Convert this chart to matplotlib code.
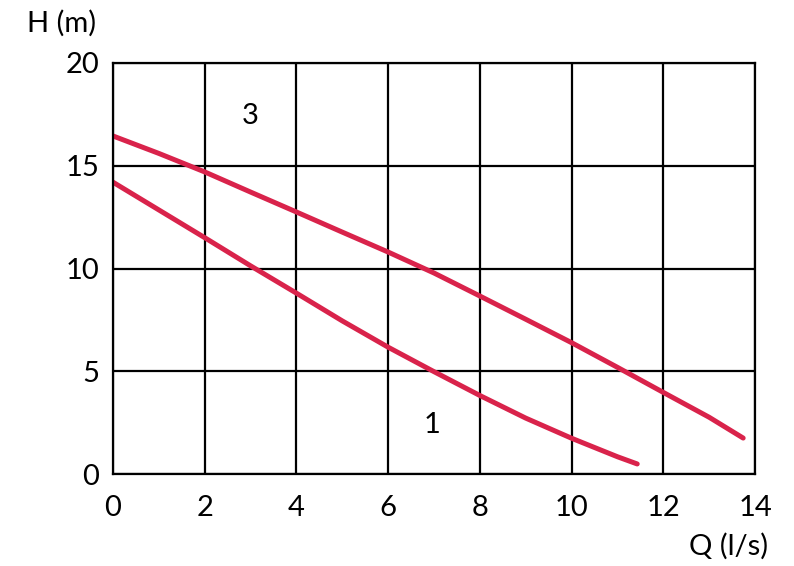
import numpy as np
import matplotlib.pyplot as plt

plt.rcParams['font.family'] = ['Lato', 'DejaVu Sans']

# pump curves
q3 = [0, 1, 2, 3, 4, 5, 6, 7, 8, 9, 10, 11, 12, 13, 13.74]
h3 = [16.45, 15.6, 14.7, 13.72, 12.75, 11.77, 10.8, 9.78, 8.66, 7.53, 6.39, 5.19, 3.97, 2.76, 1.75]
q1 = [0, 1, 2, 3, 4, 5, 6, 7, 8, 9, 10, 11, 11.43]
h1 = [14.2, 12.85, 11.5, 10.13, 8.8, 7.45, 6.17, 4.98, 3.82, 2.72, 1.74, 0.84, 0.49]

xticks = [0, 2, 4, 6, 8, 10, 12, 14]
yticks = [0, 5, 10, 15, 20]
red = '#d9234b'

fig = plt.figure(figsize=(7.94, 5.66), dpi=100)
ax = fig.add_axes([0.1423, 0.1625, 0.8087, 0.7262])

ax.plot(q3, h3, color=red, lw=3.6, solid_capstyle='round', solid_joinstyle='round')
ax.plot(q1, h1, color=red, lw=3.6, solid_capstyle='round', solid_joinstyle='round')

ax.set_xlim(0, 14)
ax.set_ylim(0, 20)
ax.set_xticks(xticks)
ax.set_yticks(yticks)
ax.grid(True, color='k', lw=1.6)
ax.set_axisbelow(True)
for s in ax.spines.values():
    s.set_linewidth(1.6)
ax.tick_params(length=0, labelsize=21)
ax.tick_params(axis='x', pad=15)
ax.tick_params(axis='y', pad=10)

ax.text(2.99, 17.4, '3', fontsize=21, ha='center', va='center')
ax.text(6.96, 2.4, '1', fontsize=21, ha='center', va='center')

fig.text(62 / 794, 1 - 23 / 566, 'H (m)', fontsize=21, ha='center', va='center')
fig.text(729 / 794, 1 - 546 / 566, 'Q (l/s)', fontsize=21, ha='center', va='center')

fig.savefig('out.png', dpi=100)
